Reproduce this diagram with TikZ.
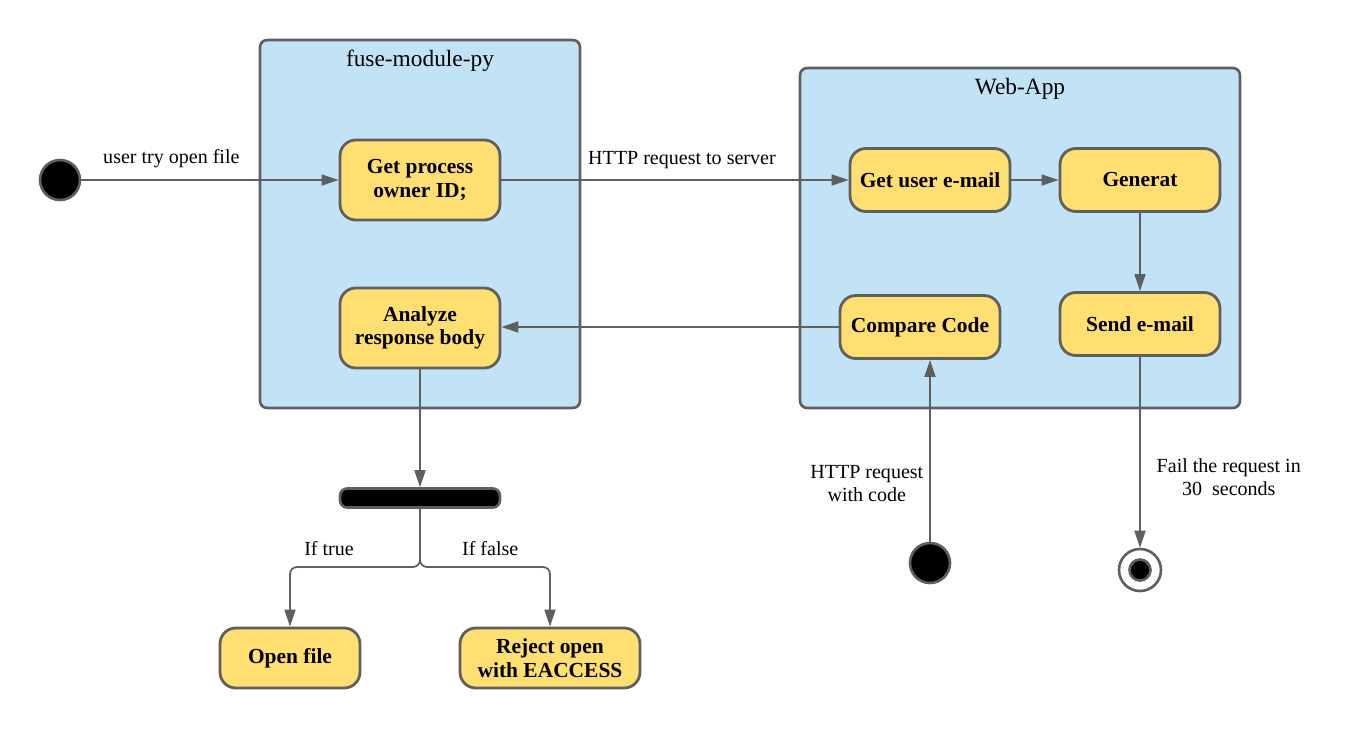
\documentclass[tikz,border=0pt]{standalone}
\usepackage{fontspec}
\setmainfont{Liberation Serif}
\usetikzlibrary{positioning,arrows.meta,calc}
\definecolor{lanebg}{HTML}{C2E3F5}
\definecolor{stategold}{HTML}{FFDF71}
\definecolor{edgegray}{HTML}{5F5F5F}

\begin{document}
\begin{tikzpicture}[x=0.02cm, y=-0.02cm, font=\fontsize{11.4}{13}\selectfont,
        lane/.style={draw=edgegray, fill=lanebg, line width=1.5pt, rounded corners=4pt},
        state/.style={draw=edgegray, fill=stategold, line width=1.6pt, rounded corners=9pt, minimum width=3.2cm, minimum height=1.26cm, align=center, font=\fontsize{12.2}{13.5}\selectfont\bfseries},
        flow/.style={draw=edgegray, line width=1pt, -{Triangle[length=3.4mm,width=2.2mm]}},
        dot/.style={circle, draw=edgegray, fill=black, line width=1.5pt, minimum size=0.8cm, inner sep=0pt}]
        \useasboundingbox (0,0) rectangle (1360,728);
        % swimlanes
        \node[lane, minimum width=6.4cm, minimum height=7.36cm] (fuse) at (420,224) {};
        \node[lane, minimum width=8.8cm, minimum height=6.8cm] (web) at (1020,238) {};
        \node[below=1mm of fuse.north, font=\fontsize{13.3}{15}\selectfont] {fuse-module-py};
        \node[below=1mm of web.north, font=\fontsize{13.3}{15}\selectfont] {Web-App};
        % states
        \node[state, minimum height=1.6cm] (owner) at (420,180) {Get process\\owner ID;};
        \node[state, minimum height=1.6cm] (analyze) at (420,328) {Analyze\\response body};
        \node[state] (email) at (930,180) {Get user e-mail};
        \node[state] (generat) at (1140,180) {Generat};
        \node[state] (send) at (1140,324) {Send e-mail};
        \node[state] (compare) at (920,327) {Compare Code};
        \node[state, minimum width=2.8cm, minimum height=1.2cm] (openf) at (290,658) {Open file};
        \node[state, minimum width=3.6cm, minimum height=1.2cm] (reject) at (550,658) {Reject open\\with EACCESS};
        % start, fork and end
        \node[dot] (start) at (60,180) {};
        \node[dot] (start2) at (930,563) {};
        \node[draw=edgegray, fill=black, line width=1.5pt, rounded corners=4pt, minimum width=3.2cm, minimum height=0.38cm, inner sep=0pt] (fork) at (420,498) {};
        \node[circle, draw=edgegray, fill=white, line width=1.5pt, minimum size=0.84cm, inner sep=0pt] (final) at (1140,570) {};
        \node[circle, draw=edgegray, fill=black, line width=1.5pt, minimum size=0.42cm, inner sep=0pt] at (final) {};
        % transitions
        \draw[flow] (start) -- node[above=1mm, pos=0.35] {user try open file} (owner);
        \draw[flow] (owner) -- node[above=1mm, pos=0.52] {HTTP request to server} (email);
        \draw[flow] (email) -- (generat);
        \draw[flow] (generat) -- (send);
        \draw[flow] (compare) -- (compare -| analyze.east);
        \draw[flow] (start2) -- node[left=0mm, align=center, pos=0.32] {HTTP request\\with code} (start2 |- compare.south);
        \draw[flow] (send) -- node[right=2mm, align=center, pos=0.63] {Fail the request in\\30~~seconds} (final);
        \draw[flow] (analyze) -- (fork);
        \coordinate (split) at (420,567);
        \draw[flow, rounded corners=4pt] (fork.south) -- (split) -| node[pos=0.35, above=1mm] {If true} (openf.north);
        \draw[flow, rounded corners=4pt] (fork.south) -- (split) -| node[pos=0.27, above=1mm] {If false} (reject.north);
\end{tikzpicture}
\end{document}
